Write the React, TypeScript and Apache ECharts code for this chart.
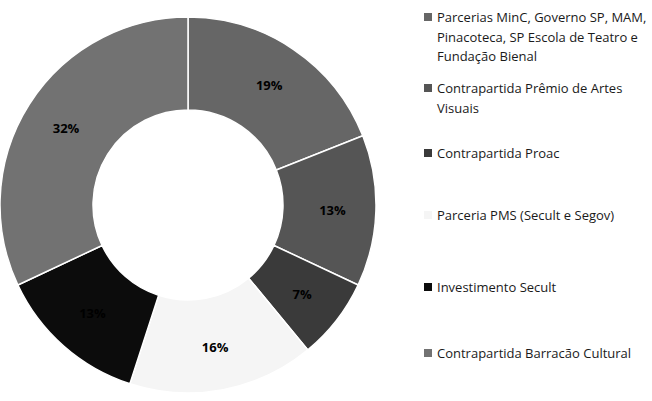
import React, { useEffect, useRef } from "react";
import * as echarts from "echarts";

const categories = [
  "Parcerias MinC, Governo SP, MAM,\nPinacoteca, SP Escola de Teatro e\nFundação Bienal",
  "Contrapartida Prêmio de Artes\nVisuais",
  "Contrapartida Proac",
  "Parceria PMS (Secult e Segov)",
  "Investimento Secult",
  "Contrapartida Barracão Cultural",
];
const values = [19, 13, 7, 16, 13, 32];
const colors = ["#666666", "#555555", "#3a3a3a", "#f5f5f5", "#0c0c0c", "#727272"];
const legendFirstLineY = [17, 88, 153, 215, 287, 353];

const LH = 19.5;
const ICON = 8;

export default function App() {
  const ref = useRef<HTMLDivElement>(null);
  useEffect(() => {
    if (!ref.current) return;
    const chart = echarts.init(ref.current, undefined, { renderer: "svg" });
    const legends = categories.map((name, i) => {
      const n = name.split("\n").length;
      const h = ICON + (n - 1) * LH;
      // square at the top of the icon box; an invisible zero-area stroke marks the box bottom
      const icon = `path://M0,0L${ICON},0L${ICON},${ICON}L0,${ICON}ZM0,${h}L${ICON},${h}Z`;
      return {
        show: true,
        data: [name],
        left: 424,
        top: legendFirstLineY[i] - LH / 2,
        padding: 0,
        orient: "vertical",
        icon,
        itemWidth: ICON,
        itemHeight: h,
        itemGap: 0,
        selectedMode: false,
        itemStyle: { borderWidth: 0 },
        textStyle: {
          fontFamily: "Open Sans",
          fontSize: 13,
          color: "#1a1a1a",
          lineHeight: LH,
        },
      };
    });
    chart.setOption({
      animation: false,
      backgroundColor: "#ffffff",
      color: colors,
      legend: legends,
      series: [
        {
          type: "pie",
          center: [188, 205],
          radius: [95, 188],
          startAngle: 90,
          clockwise: true,
          avoidLabelOverlap: false,
          itemStyle: { borderColor: "#ffffff", borderWidth: 1.5 },
          label: {
            show: true,
            position: "inside",
            color: "#000000",
            fontFamily: "Open Sans",
            fontWeight: "bold",
            fontSize: 13,
            formatter: (p: any) => `${Math.round(p.percent)}%`,
          },
          labelLine: { show: false },
          emphasis: { disabled: true },
          data: categories.map((name, i) => ({ name, value: values[i] })),
        },
      ],
    });
    return () => chart.dispose();
  }, []);
  return (
    <div
      ref={ref}
      style={{ position: "absolute", left: 0, top: 0, width: 652, height: 401 }}
    />
  );
}
